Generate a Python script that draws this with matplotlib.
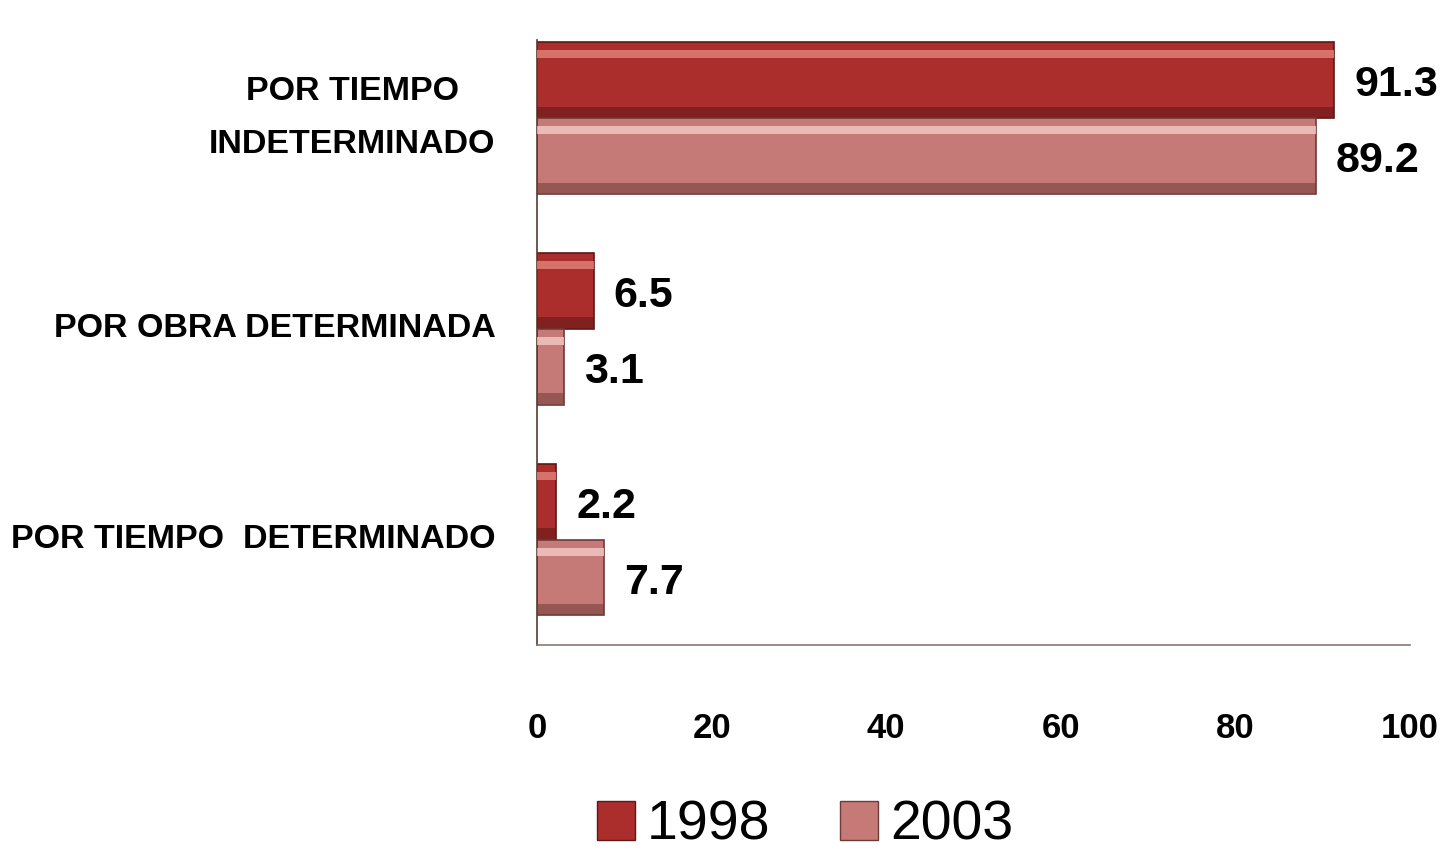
import matplotlib
matplotlib.use("Agg")
import matplotlib.pyplot as plt
from matplotlib.patches import Patch
import numpy as np

categories = ["POR TIEMPO\nINDETERMINADO", "POR OBRA DETERMINADA", "POR TIEMPO  DETERMINADO"]
series_names = ["1998", "2003"]
values_1998 = [91.3, 6.5, 2.2]
values_2003 = [89.2, 3.1, 7.7]
xticks = [0, 20, 40, 60, 80, 100]

FONT = ["Liberation Sans", "DejaVu Sans"]
plt.rcParams["font.family"] = FONT

fig = plt.figure(figsize=(14.53, 8.57), dpi=100)
ax = fig.add_axes([537/1453, 1-645/857, (1410-537)/1453, (645-40)/857])

colors = {"1998": "#ab2e2c", "2003": "#c67a78"}
light = {"1998": "#e58a80", "2003": "#f6d0cc"}
dark = {"1998": "#5e1816", "2003": "#6e3a38"}

h = 0.36
y = np.arange(len(categories))
for i, (name, vals) in enumerate(zip(series_names, [values_1998, values_2003])):
    yc = y - h/2 if i == 0 else y + h/2
    ax.barh(yc, vals, height=h, color=colors[name], edgecolor=dark[name], linewidth=1.2, zorder=2)
    # bevel highlight near top, shadow near bottom
    ax.barh(yc - h*0.34, vals, height=h*0.10, color=light[name], alpha=0.75, linewidth=0, zorder=3)
    ax.barh(yc + h*0.42, vals, height=h*0.14, color=dark[name], alpha=0.55, linewidth=0, zorder=3)
    for yy, v in zip(yc, vals):
        ax.text(v + 2.3, yy + 0.025, f"{v}", va="center", ha="left", fontsize=31,
                fontweight="bold", color="black")

ax.set_xlim(0, 100)
ax.set_ylim(2.5, -0.37)
ax.set_xticks(xticks)
ax.set_xticklabels([str(t) for t in xticks], fontsize=25, fontweight="bold")
ax.set_yticks(y)
ax.set_yticklabels(categories, fontsize=24.5, fontweight="bold", multialignment="center",
                   linespacing=1.9)
for lbl in ax.get_yticklabels():
    lbl.set_va("center")
ax.tick_params(axis="both", length=0)
ax.tick_params(axis="x", pad=48)
ax.tick_params(axis="y", pad=30)
for s in ["top", "right"]:
    ax.spines[s].set_visible(False)
ax.spines["left"].set_color("#5a3a30")
ax.spines["bottom"].set_color("#8a7a72")
ax.spines["left"].set_linewidth(1.2)
ax.spines["bottom"].set_linewidth(1.2)

handles = [Patch(facecolor=colors[n], edgecolor=dark[n], label=n) for n in series_names]
fig.legend(handles=handles, loc="center", bbox_to_anchor=(805/1453, 1-826/857), ncol=2,
           frameon=False, fontsize=40, handlelength=0.68, handleheight=0.68,
           columnspacing=1.25, handletextpad=0.22, borderpad=0.2)

fig.savefig("out.png", dpi=100)
